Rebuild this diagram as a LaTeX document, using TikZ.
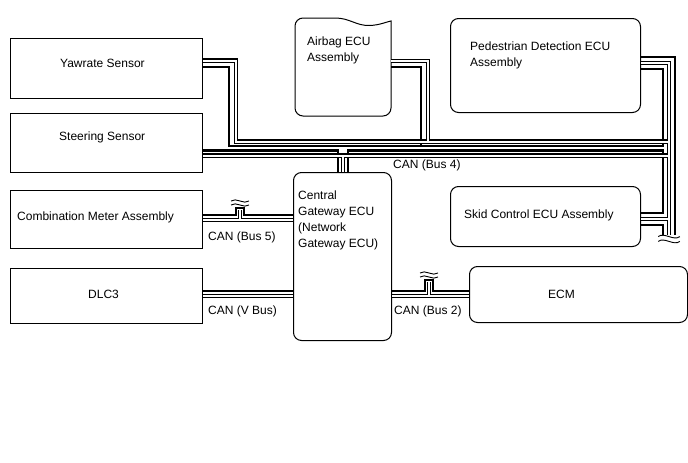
\documentclass[tikz,border=0pt]{standalone}
\usepackage{fontspec}
\setmainfont{Liberation Sans}
\begin{document}
\begin{tikzpicture}[x=1pt,y=-1pt,
  box/.style={draw=black, line width=1pt, fill=white, inner sep=0pt, anchor=north west},
  rbox/.style={box, rounded corners=8pt},
  txt/.style={inner sep=0pt, anchor=west, font=\fontsize{12}{16}\selectfont, align=left},
  swire/.style={line width=2.4pt},
  hb/.style={line width=4.2pt},
  hw/.style={white, line width=2.0pt},
  brk/.pic={\draw[line width=0.9pt] (-9,-2) .. controls (-4,-6) and (4,2) .. (9,-2);
            \draw[line width=0.9pt] (-9,2) .. controls (-4,-2) and (4,6) .. (9,2);}
]
\useasboundingbox (0,0) rectangle (688,463);
% boxes
\node[box, minimum width=192pt, minimum height=60pt] (yaw) at (10,38) {};
\node[box, minimum width=192pt, minimum height=59pt] (steer) at (10,113) {};
\node[box, minimum width=192pt, minimum height=58pt] (comb) at (10,190) {};
\node[box, minimum width=192pt, minimum height=55pt] (dlc) at (10,268) {};
\node[rbox, minimum width=98pt, minimum height=168pt] (gw) at (293,172) {};
\node[rbox, minimum width=190pt, minimum height=94pt] (ped) at (450,18) {};
\node[rbox, minimum width=190pt, minimum height=60pt] (skid) at (450,186) {};
\node[rbox, minimum width=218pt, minimum height=56pt] (ecm) at (469,266) {};
\node[inner sep=0pt, minimum width=96pt, minimum height=98pt, anchor=north west] (airbag) at (295,18) {};
\draw[line width=1pt, fill=white] (391,21) -- (391,108) .. controls (391,112.4) and (387.4,116) .. (383,116)
  -- (303,116) .. controls (298.6,116) and (295,112.4) .. (295,108) -- (295,26)
  .. controls (295,21.6) and (298.6,18) .. (303,18) -- (335,18)
  .. controls (350,18) and (356,26) .. (370,25.5) .. controls (380,25) and (386,22) .. (391,21) -- cycle;
% texts
\node[txt] (tyaw) at (60,63) {Yawrate Sensor};
\node[txt] (tsteer) at (59,137) {Steering Sensor};
\node[txt] (tcomb) at (17,217) {Combination Meter Assembly};
\node[txt] (tdlc) at (88,294) {DLC3};
\node[txt, anchor=north west] (tgw) at (298,191) {Central\\Gateway ECU\\(Network\\Gateway ECU)};
\node[txt, anchor=north west] (tair) at (307,37) {Airbag ECU\\Assembly};
\node[txt, anchor=north west] (tped) at (470,42) {Pedestrian Detection ECU\\Assembly};
\node[txt] (tskid) at (464,215) {Skid Control ECU Assembly};
\node[txt] (tecm) at (548,294) {ECM};
\node[txt] (lb4) at (393,165) {CAN (Bus 4)};
\node[txt] (lb5) at (208,237) {CAN (Bus 5)};
\node[txt] (lbv) at (208,311) {CAN (V Bus)};
\node[txt] (lb2) at (394,311) {CAN (Bus 2)};
% solid wires
\draw[swire] (yaw.east |- 0,67) -| (229,146) -- (663,146) |- (ped.east |- 0,69);
\draw[swire] (airbag.east |- 0,67) -| (421,146);
\draw[swire] (steer.east |- 0,150.5) -| (338,172);
\draw[swire] (348,172) |- (663,150.5) |- (skid.east |- 0,213);
\draw[swire] (ped.east |- 0,57) -| (675,235);
\draw[swire] (skid.east |- 0,225) -| (663,235);
\draw[swire] (comb.east |- 0,215) -| (236,208) -| (244,215) -- (gw.west |- 0,215);
\draw[swire] (dlc.east |- 0,291) -- (gw.west |- 0,291);
\draw[swire] (gw.east |- 0,291) -| (425,280) -| (433,291) -- (ecm.west |- 0,291);
% hollow wires
\foreach \st in {hb,hw}{
  \draw[\st] (yaw.east |- 0,60.5) -| (236,141.5) -- (669,141.5);
  \draw[\st] (airbag.east |- 0,61) -| (428,141.5);
  \draw[\st] (ped.east |- 0,63) -| (669,235);
  \draw[\st] (steer.east |- 0,155.5) -| (343,172);
  \draw[\st] (669,155.5) -| (343,172);
  \draw[\st] (skid.east |- 0,219) -- (669,219);
  \draw[\st] (comb.east |- 0,220) -- (gw.west |- 0,220);
  \draw[\st] (240,220) -- (240,209.5);
  \draw[\st] (dlc.east |- 0,296) -- (gw.west |- 0,296);
  \draw[\st] (gw.east |- 0,296) -- (ecm.west |- 0,296);
  \draw[\st] (429,296) -- (429,281.5);
}
% break marks
\pic[scale=1.2] at (669,239) {brk};
\pic at (240,203) {brk};
\pic at (429,275) {brk};
\end{tikzpicture}
\end{document}
